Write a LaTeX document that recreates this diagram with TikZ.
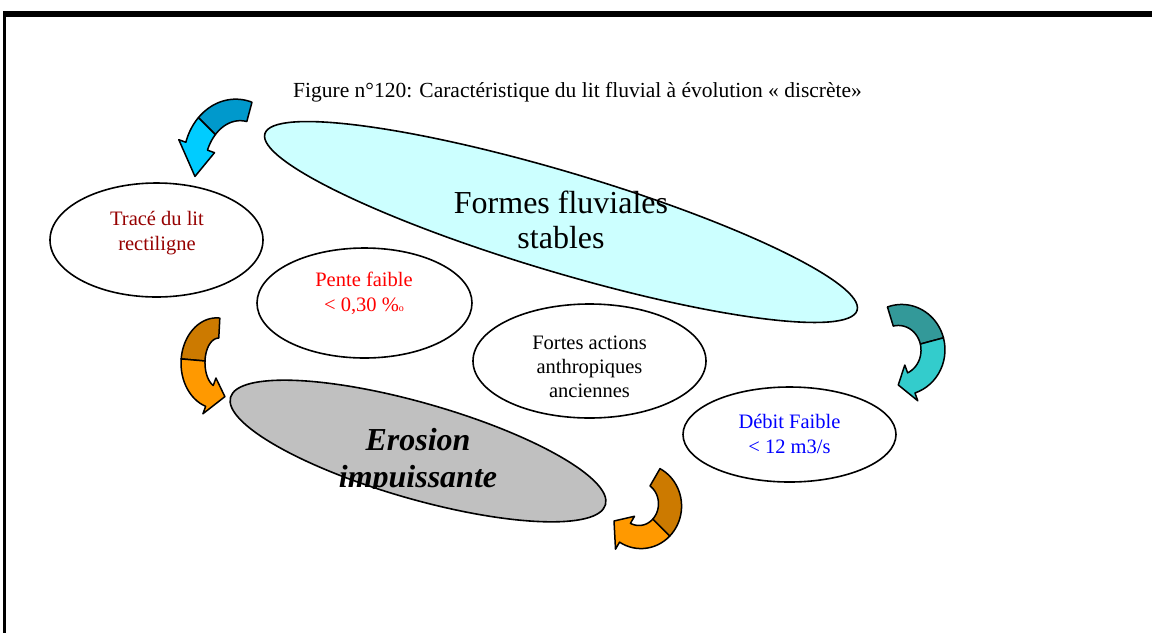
\documentclass[tikz,border=0pt]{standalone}
\usepackage{fontspec}
\setmainfont{Liberation Serif}
\definecolor{formescyan}{RGB}{204,255,255}
\definecolor{erosiongrey}{RGB}{192,192,192}
\definecolor{tracered}{RGB}{150,0,0}
\definecolor{bluedark}{RGB}{0,153,204}
\definecolor{bluelight}{RGB}{0,204,255}
\definecolor{tealdark}{RGB}{51,153,153}
\definecolor{teallight}{RGB}{51,204,204}
\definecolor{orangedark}{RGB}{204,122,0}
\definecolor{orangelight}{RGB}{255,153,0}
\tikzset{bubble/.style={draw=black,line width=1.6pt},
 twistline/.style={draw=black,line width=1.5pt,line join=round},
 bubbletext/.style={align=center,font=\fontsize{20.5}{25}\selectfont}}
\newcommand{\bandw}{10}
\newcommand{\bulge}{2}
\newcommand{\headw}{19}
\newcommand{\twistarrow}[9]{%
\filldraw[twistline,fill=#1dark]
 plot[domain=#6:#7,samples=24] ({#2+(#4+\bandw+\bulge*sin((\x-(#6))/((#9)-(#6))*180))*cos(\x)},{#3+(#5+\bandw+\bulge*sin((\x-(#6))/((#9)-(#6))*180))*sin(\x)})
 -- plot[domain=#7:#6,samples=24] ({#2+(#4-\bandw-\bulge*sin((\x-(#6))/((#9)-(#6))*180))*cos(\x)},{#3+(#5-\bandw-\bulge*sin((\x-(#6))/((#9)-(#6))*180))*sin(\x)})
 -- cycle;
\filldraw[twistline,fill=#1light]
 plot[domain=#7:#8,samples=16] ({#2+(#4+\bandw+\bulge*sin((\x-(#6))/((#9)-(#6))*180))*cos(\x)},{#3+(#5+\bandw+\bulge*sin((\x-(#6))/((#9)-(#6))*180))*sin(\x)})
 -- ({#2+(#4+\headw)*cos(#8)},{#3+(#5+\headw)*sin(#8)})
 -- ({#2+#4*cos(#9)},{#3+#5*sin(#9)})
 -- ({#2+(#4-\headw)*cos(#8)},{#3+(#5-\headw)*sin(#8)})
 -- plot[domain=#8:#7,samples=16] ({#2+(#4-\bandw-\bulge*sin((\x-(#6))/((#9)-(#6))*180))*cos(\x)},{#3+(#5-\bandw-\bulge*sin((\x-(#6))/((#9)-(#6))*180))*sin(\x)})
 -- cycle;}

\begin{document}
\begin{tikzpicture}[x=1pt,y=-1pt]
\path[use as bounding box,fill=white] (0,0) rectangle (1152,633);
\draw[line width=6pt] (3,14) -- (1152,14);
\draw[line width=2.8pt] (4.7,11) -- (4.7,633);
\node[anchor=base west,inner sep=0pt,font=\fontsize{21.5}{26}\selectfont] (title) at (293,97)
 {Figure n°120: Caractéristique du lit fluvial à évolution « discrète»};
\draw[bubble,fill=formescyan,rotate around={-16.6:(561,222)}] (561,222) ellipse (309pt and 50pt);
\draw[bubble,fill=white] (156.5,240) ellipse (106.5pt and 57pt);
\draw[bubble,fill=white] (364.5,303) ellipse (107.5pt and 55pt);
\draw[bubble,fill=white] (589.5,361) ellipse (116.5pt and 57pt);
\draw[bubble,fill=white] (789.5,434.5) ellipse (106.5pt and 47.5pt);
\draw[bubble,fill=erosiongrey,rotate around={-16:(418,451)}] (418,451) ellipse (195pt and 48pt);
\node[align=center,font=\fontsize{32}{35}\selectfont] (formes) at (561,219.5) {Formes fluviales\\stables};
\node[bubbletext,text=tracered] (trace) at (157,232.75) {Tracé du lit\\rectiligne};
\node[bubbletext,text=red] (pente) at (364,293.5) {Pente faible\\< 0,30 \%{\fontsize{10}{10}\selectfont o}};
\node[bubbletext,font=\fontsize{20.5}{24}\selectfont] (fortes) at (589.5,367) {Fortes actions\\anthropiques\\anciennes};
\node[bubbletext,text=blue] (debit) at (789.5,433.5) {Débit Faible\\< 12 m3/s};
\begin{scope}
\clip (300,380) rectangle (560,488);
\node[align=center,font=\fontsize{32}{37}\selectfont\bfseries\itshape] (erosion) at (418,461.5) {Erosion\\impuissante};
\end{scope}
\twistarrow{blue}{238}{165}{44}{55}{-75}{-135}{-160}{-192}
\twistarrow{teal}{900}{350}{33}{35}{-107}{-15}{70}{93}
\twistarrow{orange}{218}{363}{25}{35}{-87}{-175}{-250}{-286}
\twistarrow{orange}{640}{505}{30}{32}{-60}{45}{120}{150}
\end{tikzpicture}
\end{document}
